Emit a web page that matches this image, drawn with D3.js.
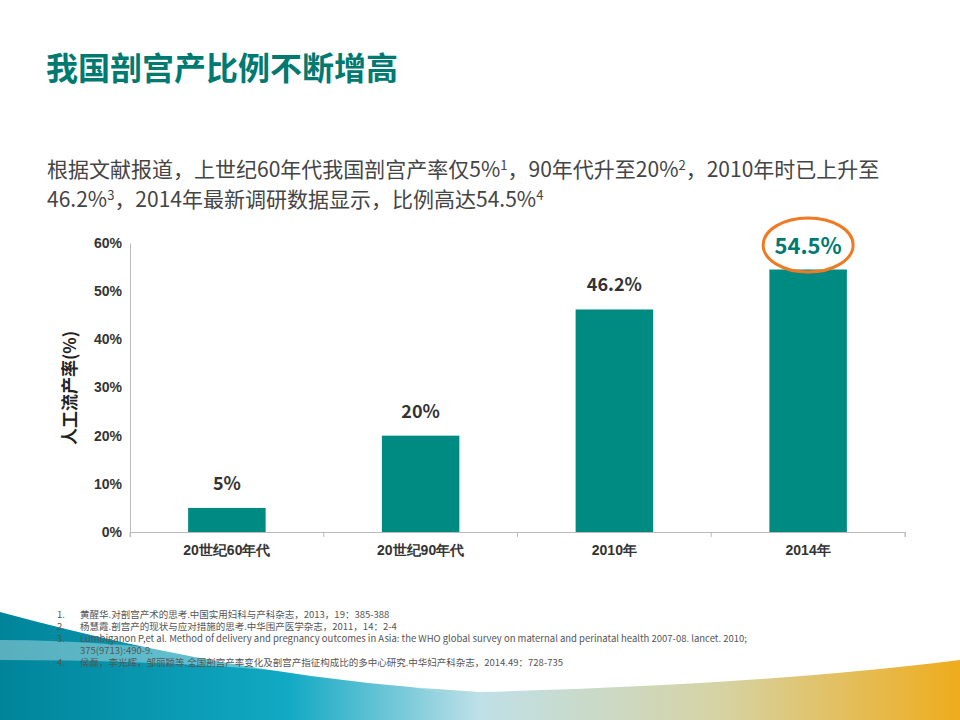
<!DOCTYPE html>
<html><head><meta charset="utf-8">
<script src="https://cdn.jsdelivr.net/npm/d3@7/dist/d3.min.js"></script>
<style>body{margin:0;background:#fff}svg{display:block;font-family:"Noto Sans CJK SC","Noto Sans",sans-serif}</style>
</head><body><div id="chart"></div>
<script>
const categories = ['20世纪60年代', '20世纪90年代', '2010年', '2014年'];
const values = [5, 20, 46.2, 54.5];
const valueLabels = ['5%', '20%', '46.2%', '54.5%'];
const yTicks = [0, 10, 20, 30, 40, 50, 60];
const introLines = [
  [['根据文献报道，上世纪60年代我国剖宫产率仅5%', 0], ['1', 1], ['，90年代升至20%', 0], ['2', 1], ['，2010年时已上升至', 0]],
  [['46.2%', 0], ['3', 1], ['，2014年最新调研数据显示，比例高达54.5%', 0], ['4', 1]]
];
const refs = [
  ['1.', '黄醒华.对剖宫产术的思考.中国实用妇科与产科杂志，2013，19：385-388'],
  ['2.', '杨慧霞.剖宫产的现状与应对措施的思考.中华围产医学杂志，2011，14：2-4'],
  ['3.', 'Lumbiganon P,et al. Method of delivery and pregnancy outcomes in Asia: the WHO global survey on maternal and perinatal health 2007-08. lancet. 2010;'],
  ['', '375(9713):490-9.'],
  ['4.', '侯磊，李光辉，邹丽颖等.全国剖宫产率变化及剖宫产指征构成比的多中心研究.中华妇产科杂志，2014.49：728-735']
];

const svg = d3.select('#chart').append('svg').attr('width', 960).attr('height', 720);

// background wave
const grad = svg.append('defs').append('linearGradient').attr('id', 'wave');
[['0%', '#00849a'], ['30%', '#11a9c4'], ['50%', '#bfe0e8'], ['75%', '#d6d3a4'], ['100%', '#efac1c']]
  .forEach(([o, c]) => grad.append('stop').attr('offset', o).attr('stop-color', c));
svg.append('path').attr('d', 'M0,612 Q250,680 480,692 Q760,685 960,660 L960,720 L0,720 Z').attr('fill', 'url(#wave)');
svg.append('path').attr('d', 'M0,640 Q200,640 480,700 Q300,660 0,660 Z').attr('fill', '#fff').attr('opacity', 0.35);

svg.append('text').attr('x', 46).attr('y', 80).attr('fill', '#007a70')
  .style('font-size', '32px').style('font-weight', 'bold').text('我国剖宫产比例不断增高');

introLines.forEach((parts, li) => {
  const t = svg.append('text').attr('x', 47).attr('y', 177 + li * 30).attr('fill', '#444').style('font-size', '21px');
  parts.forEach(([s, sup]) => {
    t.append('tspan').attr('dy', sup ? -7 : 0).style('font-size', sup ? '13px' : null).text(s);
    if (sup) t.append('tspan').attr('dy', 7).text('\u200b');
  });
});

const x = d3.scaleBand().domain(categories).range([130, 905]).paddingInner(0.6).paddingOuter(0.3);
const y = d3.scaleLinear().domain([0, 60]).range([532, 243]);

const yAxis = svg.append('g').attr('transform', 'translate(130,0)')
  .call(d3.axisLeft(y).tickValues(yTicks).tickFormat(d => d + '%').tickSize(0).tickPadding(8));
yAxis.select('.domain').attr('stroke', '#bbb');
yAxis.selectAll('text').style('font-size', '14px').style('font-weight', 'bold').attr('fill', '#333');

const xAxis = svg.append('g').attr('transform', 'translate(0,532)')
  .call(d3.axisBottom(x).tickSize(5).tickPadding(8));
xAxis.select('.domain').attr('stroke', '#bbb');
xAxis.selectAll('line').attr('stroke', '#bbb').attr('transform', `translate(${-x.step() / 2},0)`);
xAxis.selectAll('text').style('font-size', '14px').style('font-weight', 'bold').attr('fill', '#333');
svg.append('line').attr('x1', 905).attr('x2', 905).attr('y1', 532).attr('y2', 537).attr('stroke', '#bbb');

svg.append('text').attr('transform', 'translate(76,388) rotate(-90)').attr('text-anchor', 'middle')
  .style('font-size', '17px').style('font-weight', 'bold').attr('fill', '#222').text('人工流产率(%)');

svg.selectAll('.bar').data(values).enter().append('rect')
  .attr('x', (d, i) => x(categories[i])).attr('width', x.bandwidth())
  .attr('y', d => y(d)).attr('height', d => y(0) - y(d)).attr('fill', '#008b82');

svg.selectAll('.lbl').data(values).enter().append('text')
  .attr('x', (d, i) => x(categories[i]) + x.bandwidth() / 2)
  .attr('y', (d, i) => i === 3 ? y(d) - 15 : y(d) - 18)
  .attr('text-anchor', 'middle')
  .style('font-size', (d, i) => i === 3 ? '22px' : '18px').style('font-weight', 'bold')
  .attr('fill', (d, i) => i === 3 ? '#007a70' : '#333')
  .text((d, i) => valueLabels[i]);

svg.append('ellipse').attr('cx', x(categories[3]) + x.bandwidth() / 2).attr('cy', 245)
  .attr('rx', 45).attr('ry', 27).attr('fill', 'none').attr('stroke', '#f07a22').attr('stroke-width', 3);

const refG = svg.append('g').style('font-size', '9.5px').attr('fill', '#555');
refs.forEach(([num, r], i) => {
  const yy = 618 + i * 12;
  if (num) refG.append('text').attr('x', 57).attr('y', yy).text(num);
  refG.append('text').attr('x', 80).attr('y', yy).text(r);
});
</script></body></html>
